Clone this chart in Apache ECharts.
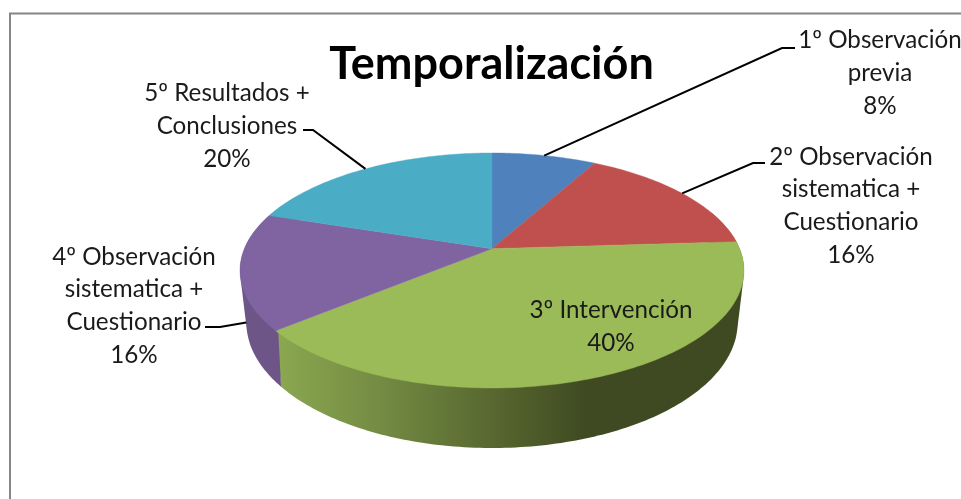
<!DOCTYPE html>
<html>
<head>
<meta charset="utf-8">
<script src="https://cdn.jsdelivr.net/npm/echarts@6/dist/echarts.min.js"></script>
<style>
  html, body { margin: 0; padding: 0; background: #fff; overflow: hidden; }
  #chart { width: 961px; height: 499px; }
</style>
</head>
<body>
<div id="chart"></div>
<script>
const titleText = 'Temporalización';
const categories = [
  '1º Observación\nprevia',
  '2º Observación\nsistematica +\nCuestionario',
  '3º Intervención',
  '4º Observación\nsistematica +\nCuestionario',
  '5º Resultados +\nConclusiones'
];
const values = [8, 16, 40, 16, 20];
const topColors = ['#4f81bd', '#c0504d', '#9bbb59', '#8064a2', '#4bacc6'];

// where each text block sits, and the elbow of its leader line (null = no leader)
const labelCenters = [[880, 73], [851, 206], [611, 327], [134, 306], [227, 126]];
const leaderBends = [
  [[782, 48], [795, 48]],
  [[753, 163], [765, 163]],
  null,
  [[220, 327], [205, 327]],
  [[313, 130], [303, 130]]
];
// the 4th leader lands on the lower rim, the slice's top rim is out of its way
const leaderOnLowerRim = [false, false, false, true, false];

const FONT = 'Lato, "Open Sans", sans-serif';
const total = values.reduce(function (a, b) { return a + b; }, 0);

// tilted disc: apex of the pie and perspective terms fitted to the picture
const apexX = 492, apexY = 248.7;
const persp = 0.1855, scaleX = 247.6, scaleY = 113.46;

function topPoint(deg) {
  const a = deg * Math.PI / 180;
  const u = Math.sin(a), v = -Math.cos(a);
  const w = 1 - persp * v;
  return [apexX + scaleX * u / w, apexY + scaleY * v / w];
}

function lowerPoint(deg) {
  const p = topPoint(deg);
  return [apexX + 0.975 * (p[0] - apexX), p[1] + 56 + 0.07 * (p[1] - 331)];
}

function sliceRange(i) {
  let before = 0;
  for (let k = 0; k < i; k++) before += values[k];
  return [before / total * 360, (before + values[i]) / total * 360];
}

function sideFill(i) {
  if (i === 2) {
    return new echarts.graphic.LinearGradient(275, 0, 640, 0, [
      { offset: 0, color: '#8ca851' },
      { offset: 0.3, color: '#728a42' },
      { offset: 0.67, color: '#515f2b' },
      { offset: 0.85, color: '#3f4a22' },
      { offset: 1, color: '#3f4a22' }
    ], true);
  }
  return i === 3 ? '#6d5588' : topColors[i];
}

// outline of the rim band; the part over the disc gets hidden by the top faces
function convexHull(points) {
  const pts = points.slice().sort(function (a, b) { return a[0] - b[0] || a[1] - b[1]; });
  function cross(o, a, b) {
    return (a[0] - o[0]) * (b[1] - o[1]) - (a[1] - o[1]) * (b[0] - o[0]);
  }
  function half(list) {
    const out = [];
    list.forEach(function (p) {
      while (out.length > 1 && cross(out[out.length - 2], out[out.length - 1], p) <= 0) out.pop();
      out.push(p);
    });
    out.pop();
    return out;
  }
  return half(pts).concat(half(pts.slice().reverse()));
}

function renderSide(params, api) {
  const i = params.dataIndex;
  const range = sliceRange(i);
  const from = Math.max(range[0], 70), to = Math.min(range[1], 300);
  if (from >= to) return null;
  const points = [];
  for (let d = from; d < to; d += 1) points.push(topPoint(d), lowerPoint(d));
  points.push(topPoint(to), lowerPoint(to));
  return {
    type: 'polygon',
    shape: { points: convexHull(points) },
    style: { fill: sideFill(i) }
  };
}

function renderTop(params, api) {
  const i = params.dataIndex;
  const range = sliceRange(i);
  const points = [[apexX, apexY]];
  for (let d = range[0]; d < range[1]; d += 1) points.push(topPoint(d));
  points.push(topPoint(range[1]));
  return {
    type: 'polygon',
    shape: { points: points },
    style: { fill: topColors[i], stroke: topColors[i], lineWidth: 0.4 }
  };
}

function renderLabel(params, api) {
  const i = params.dataIndex;
  const range = sliceRange(i);
  const mid = (range[0] + range[1]) / 2;
  const children = [{
    type: 'text',
    style: {
      text: categories[i] + '\n' + api.value(0) + '%',
      x: labelCenters[i][0],
      y: labelCenters[i][1],
      align: 'center',
      verticalAlign: 'middle',
      font: '24.2px ' + FONT,
      lineHeight: 32.7,
      fill: '#1a1a1a'
    }
  }];
  if (leaderBends[i]) {
    const anchor = leaderOnLowerRim[i] ? lowerPoint(mid) : topPoint(mid);
    children.push({
      type: 'polyline',
      shape: { points: [anchor].concat(leaderBends[i]) },
      style: { fill: 'none', stroke: '#000', lineWidth: 2 }
    });
  }
  return { type: 'group', children: children };
}

const chart = echarts.init(document.getElementById('chart'));
const seriesData = values.map(function (v) { return [v]; });

chart.setOption({
  animation: false,
  backgroundColor: '#fff',
  title: {
    text: titleText,
    left: 486.5,
    top: 37,
    textAlign: 'center',
    textStyle: { fontFamily: FONT, fontSize: 45, fontWeight: 'bold', color: '#000' }
  },
  graphic: [
    {
      type: 'polyline',
      shape: { points: [[10, 499], [10, 13.5], [961, 13.5]] },
      style: { fill: 'none', stroke: '#868686', lineWidth: 2 }
    }
  ],
  series: [
    { type: 'custom', coordinateSystem: 'none', z: 1, silent: true, renderItem: renderSide, data: seriesData },
    { type: 'custom', coordinateSystem: 'none', z: 2, silent: true, renderItem: renderTop, data: seriesData },
    { type: 'custom', coordinateSystem: 'none', z: 3, silent: true, renderItem: renderLabel, data: seriesData }
  ]
});
</script>
</body>
</html>
